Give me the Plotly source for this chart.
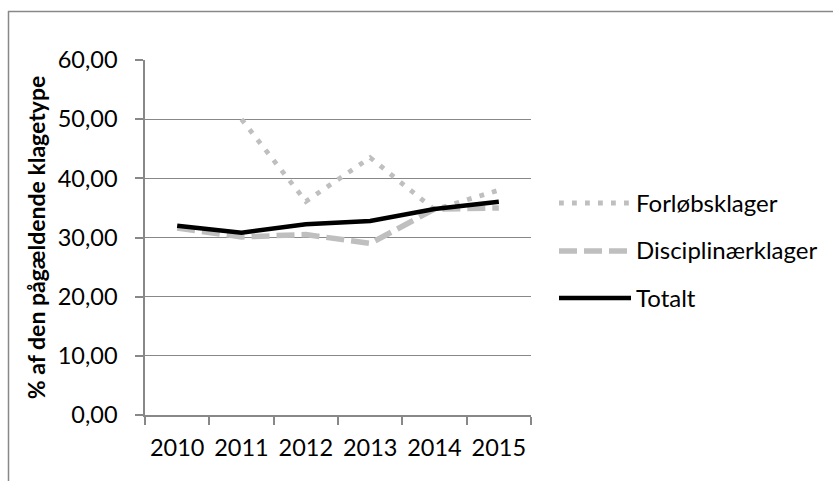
import plotly.graph_objects as go

years = ["2010", "2011", "2012", "2013", "2014", "2015"]
forlob = [None, 50.0, 36.1, 43.5, 34.7, 38.0]
disciplinaer = [31.6, 30.1, 30.5, 29.0, 34.8, 35.0]
totalt = [32.0, 30.8, 32.25, 32.8, 34.8, 36.05]
y_ticks = [0, 10, 20, 30, 40, 50, 60]
y_tick_text = ["0,00", "10,00", "20,00", "30,00", "40,00", "50,00", "60,00"]
series_names = ["Forløbsklager", "Disciplinærklager", "Totalt"]

W, H = 833, 481
L, R, T, B = 145, 531, 60, 415  # plot area in pixels

def px(x):
    return (x - L) / (R - L)

def py(y):
    return (B - y) / (B - T)

FONT = "Lato"
GRAY = "#BFBFBF"
AXIS = "#888888"

styles = [
    dict(color=GRAY, width=4.8, dash="4.8px,8.2px"),
    dict(color=GRAY, width=5.5, dash="18px,7px"),
    dict(color="#000000", width=4.5),
]

fig = go.Figure()
for name, vals, st in zip(series_names, [forlob, disciplinaer, totalt], styles):
    fig.add_trace(go.Scatter(x=years, y=vals, name=name, mode="lines",
                             line=st, connectgaps=False, showlegend=False,
                             hoverinfo="skip"))

shapes = []
# chart frame (top and left edges visible)
shapes.append(dict(type="line", xref="paper", yref="paper",
                   x0=px(8), x1=px(845), y0=py(11.5), y1=py(11.5),
                   line=dict(color=AXIS, width=1.5)))
shapes.append(dict(type="line", xref="paper", yref="paper",
                   x0=px(8.5), x1=px(8.5), y0=py(11), y1=py(495),
                   line=dict(color=AXIS, width=1.5)))

annotations = []
legend_rows = [203, 251, 298]
for name, st, yy in zip(series_names, styles, legend_rows):
    shapes.append(dict(type="line", xref="paper", yref="paper",
                       x0=px(559), x1=px(631), y0=py(yy), y1=py(yy),
                       line=dict(color=st["color"], width=st["width"],
                                 dash=st.get("dash", "solid"))))
    annotations.append(dict(xref="paper", yref="paper", x=px(634), y=py(yy - 1),
                            text=name, showarrow=False, xanchor="left",
                            yanchor="middle",
                            font=dict(family=FONT, size=24, color="#000000")))

fig.update_layout(
    width=W, height=H,
    margin=dict(l=L, r=W - R, t=T, b=H - B, pad=0),
    paper_bgcolor="white", plot_bgcolor="white",
    showlegend=False,
    shapes=shapes, annotations=annotations,
    font=dict(family=FONT, color="#000000"),
    xaxis=dict(type="category", categoryorder="array", categoryarray=years,
               range=[-0.5, 5.5], showgrid=False, zeroline=False,
               showline=True, linecolor=AXIS, linewidth=1.5,
               ticks="outside", tickson="boundaries", ticklen=8,
               tickcolor=AXIS, tickwidth=1.5,
               tickfont=dict(family=FONT, size=23.5, color="#000000"),
               ticklabelstandoff=11),
    yaxis=dict(range=[0, 60], tickvals=y_ticks, ticktext=y_tick_text,
               showgrid=True, gridcolor=AXIS, gridwidth=1.3, zeroline=False,
               showline=True, linecolor=AXIS, linewidth=1.5,
               ticks="outside", ticklen=8, tickcolor=AXIS, tickwidth=1.5,
               tickfont=dict(family=FONT, size=23.5, color="#000000"),
               ticklabelstandoff=13,
               title=dict(text="<b>% af den pågældende klagetype</b>",
                          font=dict(family=FONT, size=23, color="#000000"),
                          standoff=6)),
)

fig.write_html("out.html")
